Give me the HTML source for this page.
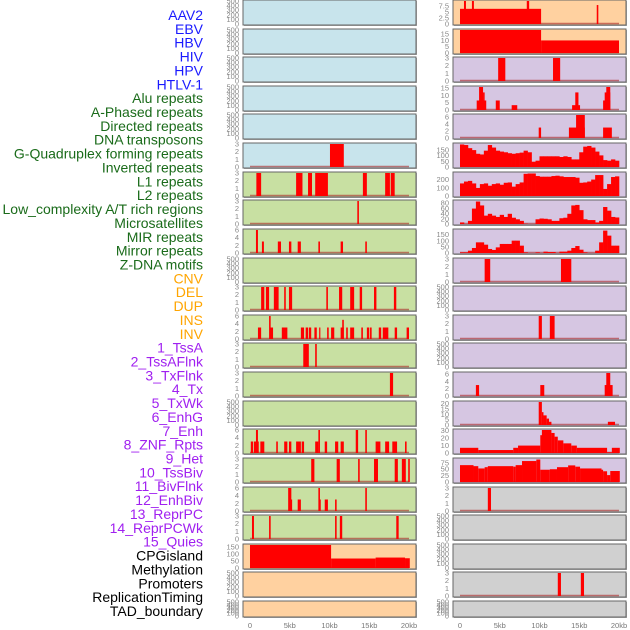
<!DOCTYPE html>
<html><head><meta charset="utf-8"><style>
body{margin:0;background:#fff}
svg{display:block}
text{font-family:"Liberation Sans",sans-serif}
</style></head><body>
<svg id="chart" width="630" height="630" viewBox="0 0 630 630" xmlns="http://www.w3.org/2000/svg"></svg>
<script>
const labels=["AAV2","EBV","HBV","HIV","HPV","HTLV-1","Alu repeats","A-Phased repeats","Directed repeats","DNA transposons","G-Quadruplex forming repeats","Inverted repeats","L1 repeats","L2 repeats","Low_complexity A/T rich regions","Microsatellites","MIR repeats","Mirror repeats","Z-DNA motifs","CNV","DEL","DUP","INS","INV","1_TssA","2_TssAFlnk","3_TxFlnk","4_Tx","5_TxWk","6_EnhG","7_Enh","8_ZNF_Rpts","9_Het","10_TssBiv","11_BivFlnk","12_EnhBiv","13_ReprPC","14_ReprPCWk","15_Quies","CPGisland","Methylation","Promoters","ReplicationTiming","TAD_boundary"];
const labelGroups=["virus","virus","virus","virus","virus","virus","repeat","repeat","repeat","repeat","repeat","repeat","repeat","repeat","repeat","repeat","repeat","repeat","repeat","sv","sv","sv","sv","sv","chrom","chrom","chrom","chrom","chrom","chrom","chrom","chrom","chrom","chrom","chrom","chrom","chrom","chrom","chrom","other","other","other","other","other"];
const xTicks=[0,5,10,15,20];
const xTickLabels=["0","5kb","10kb","15kb","20kb"];
// left column segments [startKb,endKb,value]
const L5=[[10.06,11.8,3]];
const L6=[[0.8,1.4,3],[5.8,6.6,3],[7.3,7.8,3],[8.2,9.8,3],[14.2,14.7,3],[17,17.6,3],[17.7,18.2,3]];
const L7=[[13.5,13.7,3]];
const L8=[[0.75,1.0,6],[1.5,1.75,3],[3.5,3.9,3],[4.9,5.2,3],[6.0,6.4,3],[8.6,8.8,3],[11.4,11.7,3],[14.5,14.7,3]];
const L10=[[1.4,1.8,3],[2.0,2.4,3],[3.0,3.6,3],[4.3,4.5,3],[4.9,5.3,3],[9.6,9.8,3],[11.2,11.6,3],[12.6,13.1,3],[13.8,14.1,3],[15.6,15.9,3],[18.1,18.4,3]];
const L11=[[1.0,1.4,3],[2.5,2.9,3],[2.4,2.6,6],[4.0,4.7,3],[6.4,6.8,3],[7.0,7.3,3],[7.4,7.7,3],[8.1,8.4,3],[8.7,8.8,3],[9.7,9.9,3],[10.2,10.6,3],[11.4,11.8,3],[11.6,11.8,5],[12.1,12.3,3],[12.6,13.1,3],[14.0,14.2,3],[14.7,15.0,3],[15.1,15.3,3],[16.2,16.5,3],[16.7,17.4,3],[18.2,18.5,3],[19.7,20.0,3]];
const L12=[[6.7,7.4,3],[8.2,8.4,3]];
const L13=[[17.6,18.0,3]];
const L15=[[0.1,0.4,3],[0.5,1.1,3],[1.3,1.8,3],[3.3,3.5,3],[4.3,4.7,3],[4.9,5.2,3],[5.8,6.4,3],[6.5,6.8,3],[8.2,8.6,3],[9.4,9.7,3],[10.7,11.1,3],[11.4,11.8,3],[15.8,16.4,3],[17.0,17.5,3],[17.9,18.5,3],[19.5,19.7,3],[0.75,1.0,6],[8.6,8.8,6],[13.3,13.6,6],[14.5,14.7,6]];
const L16=[[7.7,8.1,3],[10.9,11.3,3],[13.6,13.8,3],[15.6,16.1,3],[18.2,18.6,3],[19.1,19.6,3],[19.9,20.1,3]];
const L17=[[4.8,5.2,6],[8.6,8.8,6],[14.5,14.7,6],[6.0,6.4,3],[8.7,8.9,3],[9.4,9.8,3],[10.7,10.9,3],[5.0,5.3,3]];
const L18=[[0.25,0.5,3],[2.4,2.6,3],[10.7,10.9,3],[11.3,11.6,3],[18.4,18.7,3]];
const L19=[[0,10.2,165],[10.2,15.8,68],[15.8,19.5,75],[19.5,20.1,70]];
// right column
const R0=[[0,10.2,6.4],[0.5,0.75,9.7],[1.5,1.75,9.7],[8.4,8.7,9.7],[17.2,17.4,8]];
const R1=[[0,10.2,18.3],[10.2,20,10]];
const R2=[[4.8,5.7,3],[11.7,12.6,3]];
const R3=[[2.1,3.3,6.5],[2.4,2.9,15.7],[2.9,3.1,12],[4.5,5.0,6.5],[6.5,7.2,3.3],[14.1,15.1,3.3],[14.5,14.9,12],[18,18.9,6.5],[18.2,18.9,12],[18.4,18.9,15.7]];
const R4=[[9.9,10.2,3],[13.7,15.7,3],[14.6,15.7,6.6],[18,19.1,3]];
const R5=[196,191,164,147,115,109,142,191,169,142,134,128,120,115,120,125,142,128,46,55,93,93,93,93,93,87,93,87,66,66,128,177,183,169,134,101,60,55,66,55];
const R6=[153,176,184,153,98,145,153,125,145,153,137,161,165,114,145,165,270,274,274,243,235,235,235,243,247,239,231,231,231,223,161,165,176,200,255,255,86,145,231,239];
const R7=[6,0,12,59,86,71,32,39,32,27,35,27,39,24,18,12,1,0,0,18,21,20,18,12,12,22,24,39,71,73,53,18,15,15,6,12,65,51,27,25];
const R8=[5,5,19,41,87,87,68,33,25,46,74,74,74,101,101,60,5,0,0,5,0,11,8,8,0,11,11,19,41,57,27,5,0,0,19,87,183,142,60,60];
const R9=[[3.1,3.8,3],[12.7,14.0,3]];
const R11=[[9.9,10.3,3],[11.3,11.9,3]];
const R13=[[2.0,2.4,3],[10.1,10.6,3],[18.2,19.2,3],[18.4,18.9,6.3]];
const R14=[[9.9,10.3,21.5],[10.3,10.5,12],[10.5,10.9,9],[10.9,11.2,6],[11.2,11.5,3],[18.6,19.5,3]];
const R15=[[0,2.3,7],[2.3,6.7,4],[6.7,7.3,7],[7.3,10.1,10],[10.1,10.5,24],[10.3,11.5,31],[11.5,11.9,27],[11.9,12.3,22],[12.3,13.0,17],[13.0,14.0,13],[14.0,14.7,10],[14.7,18.5,7],[18.5,19.1,1],[19.1,20.1,7]];
const R16=[[0,1.7,66],[1.7,2.3,62],[2.3,3.1,53],[3.1,3.5,58],[3.5,6.7,62],[6.7,7.0,60],[7.0,7.8,66],[7.8,9.6,82],[9.6,10.1,88],[10.1,11.3,48],[11.3,12.2,50],[12.2,13.6,58],[13.6,14.5,65],[14.5,15.1,60],[15.1,17.8,53],[17.8,18.0,48],[18.0,18.5,42],[18.5,18.9,27],[18.9,20.1,43]];
const R17=[[3.5,3.9,3]];
const R20=[[12.3,12.7,3],[15.2,15.6,3]];
const E=null;
const leftSegs=[E,E,E,E,E,L5,L6,L7,L8,E,L10,L11,L12,L13,E,L15,L16,L17,L18,L19,E,E];
const rightSegs=[R0,R1,R2,R3,R4,null,null,null,null,R9,E,R11,E,R13,R14,R15,R16,R17,E,E,R20,E];
const rightProfiles={5:R5,6:R6,7:R7,8:R8};
const leftYmax=[500,500,500,500,500,3,3,3,6,500,3,6,3,3,500,6,3,6,3,165,500,500];
const rightYmax=[9.7,18.3,3,15.7,6.6,200,280,88,188,3,500,3,500,6.3,21.5,31,90,3,500,500,3,500];
const leftTicks=[[0,100,200,300,400,500],[0,100,200,300,400,500],[0,100,200,300,400,500],[0,100,200,300,400,500],[0,100,200,300,400,500],[0,1,2,3],[0,1,2,3],[0,1,2,3],[0,2,4,6],[0,100,200,300,400,500],[0,1,2,3],[0,2,4,6],[0,1,2,3],[0,1,2,3],[0,100,200,300,400,500],[0,2,4,6],[0,1,2,3],[0,2,4,6],[0,1,2,3],[0,50,100,150],[0,100,200,300,400,500],[0,100,200,300,400,500]];
const rightTicks=[[0,2.5,5,7.5],[0,5,10,15],[0,1,2,3],[0,5,10,15],[0,2,4,6],[0,50,100,150],[0,100,200],[0,20,40,60,80],[0,50,100,150],[0,1,2,3],[0,100,200,300,400,500],[0,1,2,3],[0,100,200,300,400,500],[0,2,4,6],[0,5,10,15,20],[0,10,20,30],[0,25,50,75],[0,1,2,3],[0,100,200,300,400,500],[0,100,200,300,400,500],[0,1,2,3],[0,100,200,300,400,500]];
const leftBg=["blue","blue","blue","blue","blue","blue","green","green","green","green","green","green","green","green","green","green","green","green","green","orange","orange","orange"];
const rightBg=["orange","orange","purple","purple","purple","purple","purple","purple","purple","purple","purple","purple","purple","purple","purple","purple","purple","gray","gray","gray","gray","gray"];

const bgColor={blue:"#c8e4ec",green:"#c8e0a2",orange:"#ffd1a0",purple:"#d6c6e2",gray:"#d0d0d0"};
const labColor={virus:"#1a1aff",repeat:"#1a6b1a",sv:"#ffa500",chrom:"#a020f0",other:"#000"};
const NS="http://www.w3.org/2000/svg";
const svg=document.getElementById("chart");
function mk(tag,attrs,parent){const e=document.createElementNS(NS,tag);for(const k in attrs)e.setAttribute(k,attrs[k]);(parent||svg).appendChild(e);return e;}
function rowTop(i){return Math.round(i*28.62);}
function rowH(i){return i===21?16:25;}
const colX=[243,453];const panelW=173;
function xScale(col,kb){return colX[col]+7+kb*7.95;}

labels.forEach((t,i)=>{
  const e=mk("text",{x:203,y:15+i*13.86+5,"text-anchor":"end","font-size":"14",fill:labColor[labelGroups[i]]});
  e.textContent=t;
  
  
});

function drawPanel(col,row,bg,ymax,ticks,segs,profile){
  const T=rowTop(row),H=rowH(row),X=colX[col];
  const g=mk("g",{});
  
  
  mk("rect",{x:X+1,y:T+1,width:panelW,height:H,fill:"#aaa"},g);
  mk("rect",{x:X,y:T,width:panelW,height:H,fill:bgColor[bg],stroke:"#666","stroke-width":1},g);
  const y0=T+H-1,yt=T+1;
  const ys=v=>y0-(Math.min(v,ymax)/ymax)*(y0-yt);
  ticks.forEach(v=>{
    const tx=mk("text",{x:X-4,y:ys(v)+2.5,"text-anchor":"end","font-size":"7.5",fill:"#888"},g);
    tx.textContent=String(v);
    
    
  });
  if(segs||profile){
    const bl=mk("line",{x1:xScale(col,0),x2:xScale(col,20),y1:y0-0.5,y2:y0-0.5,stroke:"rgba(170,40,40,0.6)","stroke-width":1.5},g);
    
    
  }
  if(segs){segs.forEach(s=>{
    const x1=xScale(col,s[0]),x2=xScale(col,s[1]);
    const r=mk("rect",{x:x1,y:ys(s[2]),width:Math.max(1.2,x2-x1),height:y0-ys(s[2]),fill:"#ff0000"},g);
    
    
  });}
  if(profile){profile.forEach((v,i)=>{
    const x1=xScale(col,i*0.5),x2=xScale(col,i*0.5+0.5);
    const r=mk("rect",{x:x1,y:ys(v),width:x2-x1+0.3,height:y0-ys(v),fill:"#ff0000"},g);
    
    
  });}
}
for(let r=0;r<22;r++){
  drawPanel(0,r,leftBg[r],leftYmax[r],leftTicks[r],leftSegs[r],null);
  drawPanel(1,r,rightBg[r],rightYmax[r],rightTicks[r],rightSegs[r],rightProfiles[r]||null);
}
[0,1].forEach(col=>{xTicks.forEach((k,i)=>{
  const t=mk("text",{x:xScale(col,k),y:628,"text-anchor":"middle","font-size":"7.5",fill:"#777"});
  t.textContent=xTickLabels[i];
  
  
});});
</script>
</body></html>
